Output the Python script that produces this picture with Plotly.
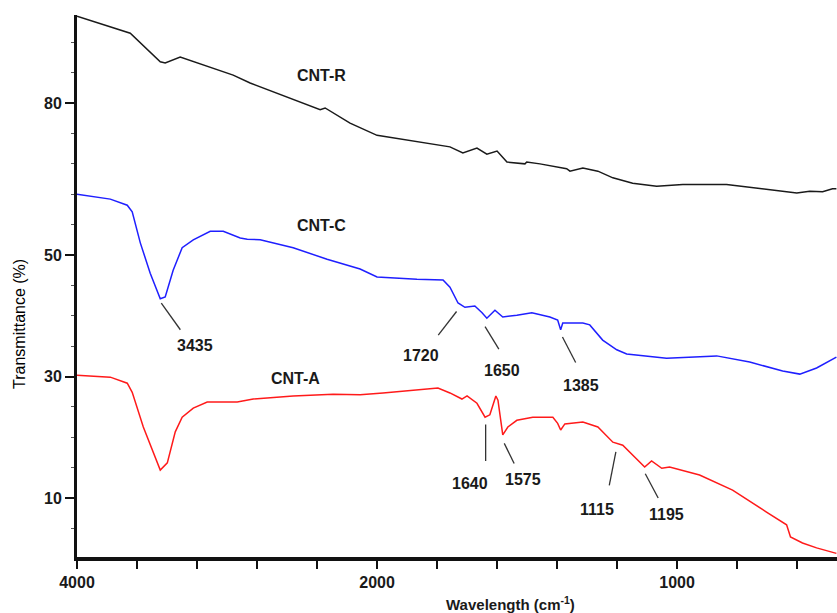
import plotly.graph_objects as go

# ---------------- data (wavenumber cm-1, transmittance on the plotted scale) ----------------
wn_R = [4000, 3645, 3445, 3412, 3312, 2959, 2846, 2379, 2346, 2180, 2000, 1923, 1757, 1714, 1667,
        1634, 1600, 1567, 1507, 1501, 1457, 1368, 1357, 1314, 1264, 1214, 1148, 1068, 981, 835,
        758, 601, 558, 515, 482, 469]
tr_R = [89.3, 86.5, 81.8, 81.6, 82.6, 79.6, 78.3, 73.9, 74.2, 71.7, 69.7, 69.1, 67.8, 66.8, 67.6,
        66.6, 67.1, 65.3, 65.0, 65.3, 65.0, 64.2, 63.8, 64.3, 63.8, 62.7, 61.8, 61.3, 61.6, 61.6,
        61.1, 60.2, 60.5, 60.4, 60.9, 60.9]

wn_C = [4000, 3778, 3665, 3632, 3578, 3512, 3445, 3412, 3359, 3299, 3225, 3112, 3025, 2945, 2912,
        2865, 2779, 2559, 2333, 2113, 2000, 1867, 1780, 1757, 1730, 1707, 1674, 1650, 1634, 1607,
        1581, 1534, 1484, 1424, 1398, 1388, 1381, 1314, 1291, 1248, 1201, 1168, 1035, 868, 758,
        648, 591, 535, 469]
tr_C = [60.0, 59.2, 58.2, 57.1, 52.0, 47.0, 42.8, 43.1, 47.5, 51.2, 52.5, 53.9, 53.9, 53.1, 52.8,
        52.6, 52.5, 51.2, 49.3, 47.7, 46.4, 46.0, 45.9, 44.7, 42.1, 41.4, 41.6, 40.5, 39.6, 40.9,
        39.8, 40.1, 40.5, 39.8, 39.3, 37.7, 38.8, 38.8, 38.5, 36.0, 34.4, 33.7, 33.0, 33.4, 32.4,
        30.9, 30.4, 31.4, 33.2]

wn_A = [4000, 3778, 3665, 3632, 3558, 3445, 3398, 3345, 3299, 3225, 3132, 2932, 2825, 2559, 2293,
        2113, 1980, 1797, 1757, 1717, 1700, 1667, 1640, 1624, 1604, 1597, 1581, 1564, 1534, 1481,
        1414, 1398, 1388, 1374, 1314, 1264, 1214, 1181, 1108, 1085, 1051, 1025, 925, 815, 702,
        635, 622, 582, 535, 469]
tr_A = [30.2, 29.9, 28.9, 27.4, 21.7, 14.6, 15.8, 20.9, 23.3, 24.8, 25.8, 25.8, 26.3, 26.8, 27.1,
        27.0, 27.3, 28.1, 27.3, 26.3, 26.8, 25.6, 23.3, 23.7, 26.8, 26.1, 20.4, 21.7, 22.8, 23.3,
        23.3, 22.3, 21.2, 22.2, 22.5, 21.7, 19.2, 18.7, 15.1, 16.1, 14.9, 15.1, 13.8, 11.3, 7.7,
        5.6, 3.6, 2.6, 1.8, 0.9]

series_names = ["CNT-R", "CNT-C", "CNT-A"]
series_colors = ["#1a1a1a", "#1f1fff", "#ff1a1a"]

# curve name labels: (text, wavenumber, value)
name_labels = [("CNT-R", 2368, 79.5), ("CNT-C", 2368, 54.8), ("CNT-A", 2546, 29.7)]

# peak labels: text, label position, leader line start, leader line end
peak_text = ["3435", "1720", "1650", "1385", "1640", "1575", "1115", "1195"]
peak_label_wn = [3212, 1855, 1585, 1321, 1690, 1512, 1267, 1034]
peak_label_tr = [35.1, 33.4, 31.0, 28.6, 12.4, 13.1, 8.2, 7.3]
lead_wn0 = [3438, 1735, 1640, 1382, 1638, 1576, 1204, 1106]
lead_tr0 = [42.1, 40.7, 38.2, 36.5, 22.1, 19.0, 17.6, 14.0]
lead_wn1 = [3311, 1796, 1594, 1338, 1638, 1543, 1226, 1063]
lead_tr1 = [37.7, 36.8, 34.5, 32.3, 16.1, 15.7, 12.1, 10.0]

x_tick_wn = [4000, 3600, 3200, 2800, 2400, 2000, 1800, 1600, 1400, 1200, 1000, 800, 600]
x_tick_text = ["<b>4000</b>", "", "", "", "", "<b>2000</b>", "", "", "", "",
               "<b>1000</b>", "", ""]
x_end_wn = 467

y_tick_vals = [10, 30, 50, 75]
y_tick_text = ["<b>10</b>", "<b>30</b>", "<b>50</b>", "<b>80</b>"]
y_minor_vals = [5, 15, 20, 25, 35, 40, 45, 55, 60, 65, 70, 80, 85]
y_title_pos = 38.6


# split-scale FTIR axis: 400 cm-1 per division above 2000, 200 cm-1 per division below
def to_u(w):
    if w >= 2000:
        return (4000 - w) / 400.0
    return 5 + (2000 - w) / 200.0


def conv(ws):
    return [to_u(w) for w in ws]


FAM = "Liberation Sans, Arial, sans-serif"
TXT = "#1a1a1a"
fig = go.Figure()
for name, col, wn, tr in zip(series_names, series_colors, [wn_R, wn_C, wn_A], [tr_R, tr_C, tr_A]):
    fig.add_trace(go.Scatter(x=conv(wn), y=tr, mode="lines", name=name,
                             line=dict(color=col, width=1.5), showlegend=False))

font_b = dict(family=FAM, size=16, color=TXT)

for t, w, v in name_labels:
    fig.add_annotation(x=to_u(w), y=v, text="<b>%s</b>" % t, showarrow=False, font=font_b)

for i, t in enumerate(peak_text):
    fig.add_annotation(x=to_u(peak_label_wn[i]), y=peak_label_tr[i], text="<b>%s</b>" % t,
                       showarrow=False, font=font_b)
    fig.add_shape(type="line", x0=to_u(lead_wn0[i]), y0=lead_tr0[i],
                  x1=to_u(lead_wn1[i]), y1=lead_tr1[i],
                  line=dict(color="#333333", width=1.3))

fig.add_annotation(xref="paper", yref="paper", x=0.57, y=0, yshift=-46, yanchor="middle",
                   xanchor="center",
                   text="<b>Wavelength (cm<sup>-1</sup>)</b>", showarrow=False,
                   font=dict(family=FAM, size=15, color=TXT))
fig.add_annotation(xref="paper", yref="paper", x=0, y=0.43, xshift=-57, textangle=270,
                   xanchor="center", yanchor="middle", bgcolor="white",
                   text="Transmittance (%)", showarrow=False,
                   font=dict(family=FAM, size=16, color="black"))

fig.update_xaxes(range=[0, to_u(x_end_wn)], tickmode="array",
                 tickvals=conv(x_tick_wn), ticktext=x_tick_text,
                 ticks="outside", ticklen=8, tickwidth=2, tickcolor="#111",
                 showline=True, linecolor="#111", linewidth=4,
                 showgrid=False, zeroline=False,
                 tickfont=dict(family=FAM, size=16, color=TXT))
fig.update_yaxes(range=[0.3, 89.5], tickmode="array",
                 tickvals=y_tick_vals, ticktext=y_tick_text,
                 ticks="outside", ticklen=9, tickwidth=2, tickcolor="#111",
                 minor=dict(tickmode="array", tickvals=y_minor_vals, ticks="outside",
                            ticklen=3, tickwidth=1, tickcolor="#555"),
                 showline=True, linecolor="#111", linewidth=3,
                 showgrid=False, zeroline=False,
                 tickfont=dict(family=FAM, size=16, color=TXT))
fig.update_layout(width=837, height=613, margin=dict(l=77, r=0, t=15, b=56),
                  plot_bgcolor="white", paper_bgcolor="white")

fig.write_html("out.html")
